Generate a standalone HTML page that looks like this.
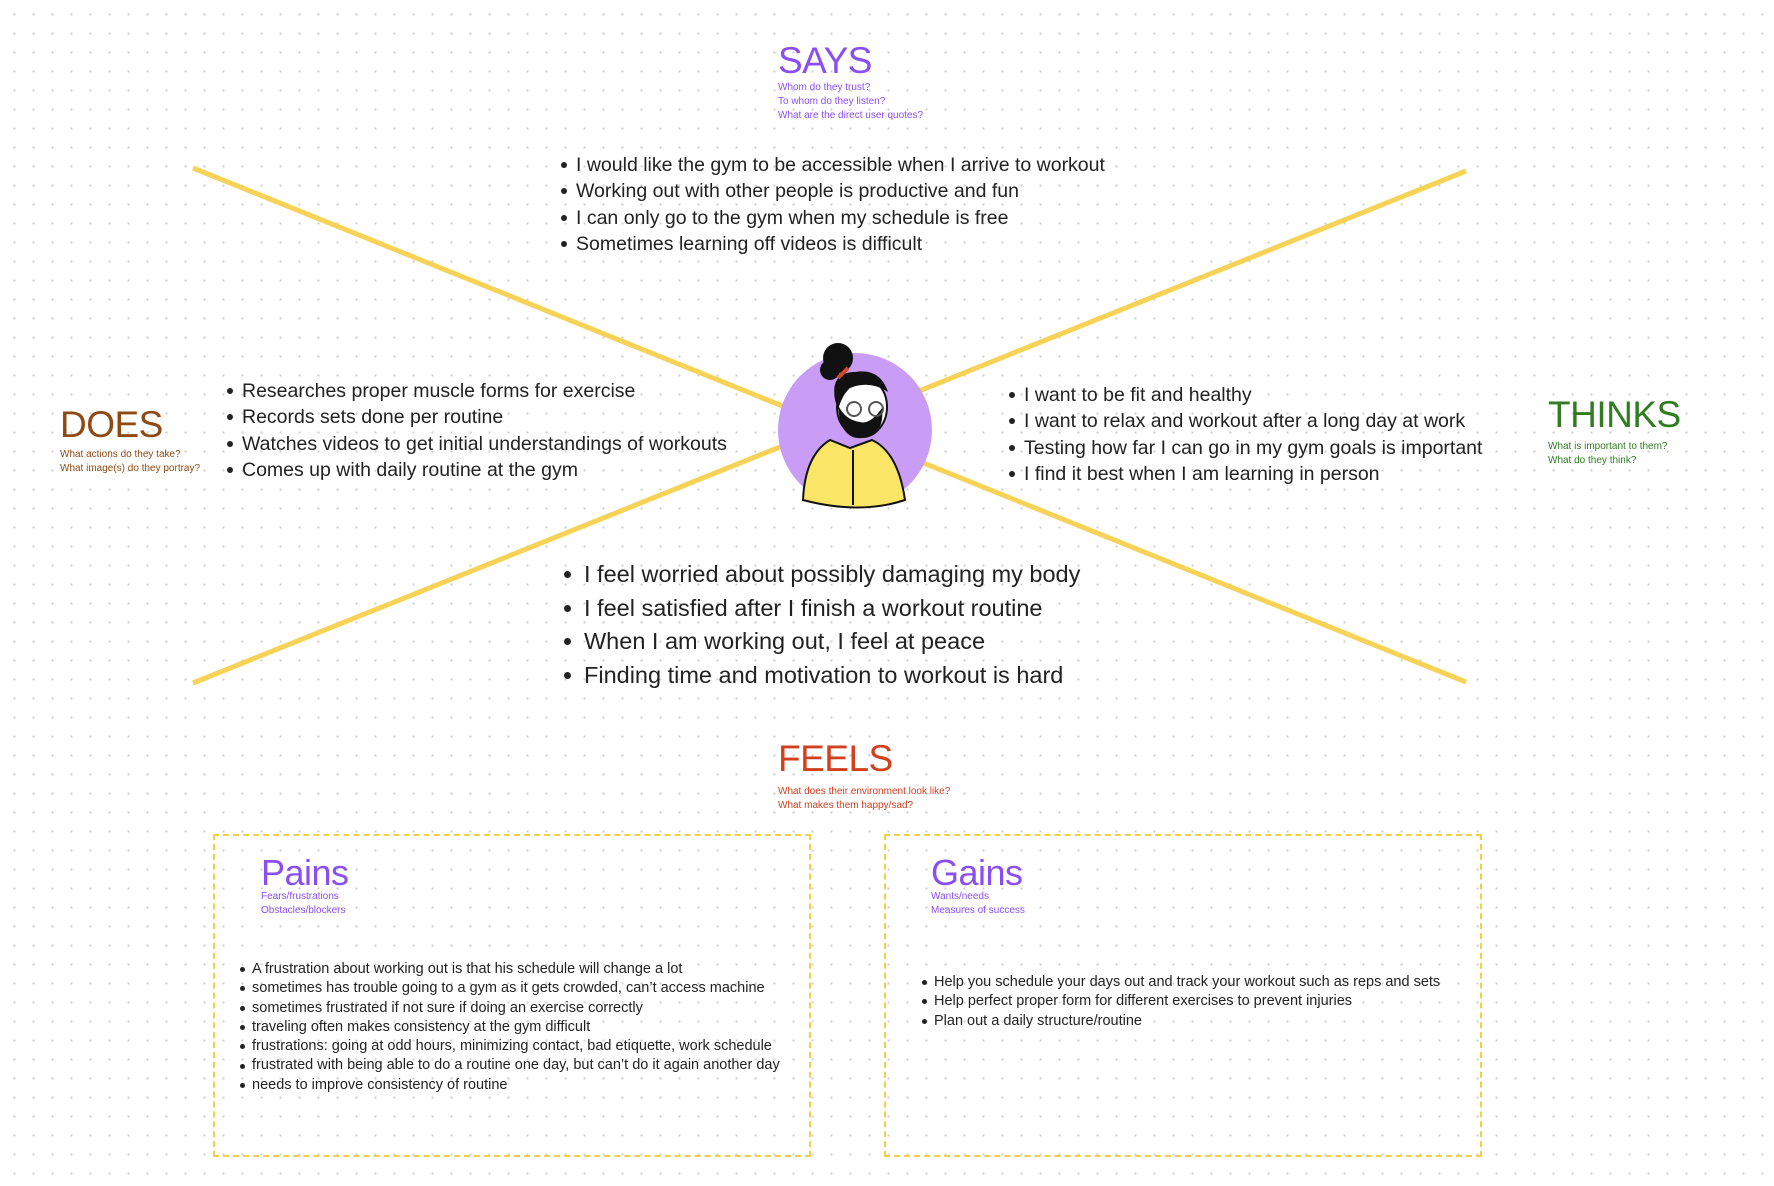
<!DOCTYPE html>
<html><head><meta charset="utf-8"><style>
*{margin:0;padding:0;box-sizing:border-box}
body{width:1774px;height:1186px;overflow:hidden;background:#fff;font-family:"Liberation Sans",sans-serif;color:#222;position:relative;
background-image:radial-gradient(circle,#cfcfcf 1px,transparent 1.3px);background-size:19px 19px;background-position:5px 5px}
.a{position:absolute;white-space:nowrap}
.t{font-size:37px;line-height:1;letter-spacing:-0.5px}
.s{font-size:10px;line-height:14px}
ul{list-style:none}
li{position:relative}
li:before{content:"";position:absolute;left:-15px;top:50%;width:6px;height:6px;margin-top:-3px;border-radius:50%;background:#222}
.m li{font-size:19.5px;height:26.3px;line-height:26.3px}
.f li{font-size:23.5px;height:33.5px;line-height:33.5px}
.f li:before{left:-20px;width:7px;height:7px;margin-top:-3.5px}
.p li{font-size:14.5px;height:19.3px;line-height:19.3px}
.p li:before{left:-12px;width:5px;height:5px;margin-top:-2.5px}
.box{position:absolute;border:2px dashed #f3cf45;background:transparent}
</style></head><body>
<svg class="a" style="left:0;top:0" width="1774" height="1186">
<line x1="193" y1="168" x2="1466" y2="682" stroke="#f6d256" stroke-width="5"/>
<line x1="193" y1="683" x2="1466" y2="171" stroke="#f6d256" stroke-width="5"/>
<circle cx="855" cy="430" r="77" fill="#c99cf6"/>
<path d="M803 500 Q805 455 830 440 L850 448 L872 440 Q898 452 905 500 Q860 515 803 500Z" fill="#fbe567" stroke="#111" stroke-width="2"/>
<path d="M853 450 L853 505" stroke="#111" stroke-width="2"/>
<ellipse cx="862" cy="407" rx="25" ry="30" fill="#fff" stroke="#111" stroke-width="2"/>
<path d="M838 405 Q840 440 862 438 Q885 435 882 408 Q870 425 860 422 Q845 420 838 405Z" fill="#111"/>
<path d="M835 400 Q830 372 855 372 Q880 368 888 392 Q870 380 850 388 Q842 395 838 410Z" fill="#111"/>
<circle cx="838" cy="358" r="15" fill="#111"/>
<circle cx="830" cy="370" r="10" fill="#111"/>
<path d="M838 378 L848 368" stroke="#d24a2a" stroke-width="4"/>
<circle cx="854" cy="409" r="7" fill="none" stroke="#555" stroke-width="2"/>
<circle cx="876" cy="409" r="7" fill="none" stroke="#555" stroke-width="2"/>
</svg>

<div class="a t" style="left:778px;top:42px;color:#8b4ef2">SAYS</div>
<div class="a s" style="left:778px;top:81px;color:#8b4ef2">Whom do they trust?<br>To whom do they listen?<br>What are the direct user quotes?</div>
<ul class="a m" style="left:576px;top:152px">
<li>I would like the gym to be accessible when I arrive to workout</li>
<li>Working out with other people is productive and fun</li>
<li>I can only go to the gym when my schedule is free</li>
<li>Sometimes learning off videos is difficult</li></ul>

<div class="a t" style="left:60px;top:406px;color:#8f4a14">DOES</div>
<div class="a s" style="left:60px;top:448px;color:#8f4a14">What actions do they take?<br>What image(s) do they portray?</div>
<ul class="a m" style="left:242px;top:378px">
<li>Researches proper muscle forms for exercise</li>
<li>Records sets done per routine</li>
<li>Watches videos to get initial understandings of workouts</li>
<li>Comes up with daily routine at the gym</li></ul>

<div class="a t" style="left:1548px;top:396px;color:#2f7d20">THINKS</div>
<div class="a s" style="left:1548px;top:440px;color:#2f7d20">What is important  to them?<br>What do they think?</div>
<ul class="a m" style="left:1024px;top:382px">
<li>I want to be fit and healthy</li>
<li>I want to relax and workout after a long day at work</li>
<li>Testing how far I can go in my gym goals is important</li>
<li>I find it best when I am learning in person</li></ul>

<ul class="a f" style="left:584px;top:558px">
<li>I feel worried about possibly damaging my body</li>
<li>I feel satisfied after I finish a workout routine</li>
<li>When I am working out, I feel at peace</li>
<li>Finding time and motivation to workout is hard</li></ul>

<div class="a t" style="left:778px;top:740px;color:#d2401e">FEELS</div>
<div class="a s" style="left:778px;top:785px;color:#d2401e">What does their environment look like?<br>What makes them happy/sad?</div>

<div class="box" style="left:213px;top:834px;width:598px;height:323px"></div>
<div class="box" style="left:884px;top:834px;width:598px;height:323px"></div>

<div class="a" style="left:261px;top:853px;font-size:36px;line-height:40px;color:#8b4ef2;letter-spacing:-0.5px">Pains</div>
<div class="a s" style="left:261px;top:890px;color:#8b4ef2">Fears/frustrations<br>Obstacles/blockers</div>
<ul class="a p" style="left:252px;top:960px">
<li>A frustration about working out is that his schedule will change a lot</li>
<li>sometimes has trouble going to a gym as it gets crowded, can’t access machine</li>
<li>sometimes frustrated if not sure if doing an exercise correctly</li>
<li>traveling often makes consistency at the gym difficult</li>
<li>frustrations: going at odd hours, minimizing contact, bad etiquette, work schedule</li>
<li>frustrated with being able to do a routine one day, but can’t do it again another day</li>
<li>needs to improve consistency of routine</li></ul>

<div class="a" style="left:931px;top:853px;font-size:36px;line-height:40px;color:#8b4ef2;letter-spacing:-0.5px">Gains</div>
<div class="a s" style="left:931px;top:890px;color:#8b4ef2">Wants/needs<br>Measures of success</div>
<ul class="a p" style="left:934px;top:973px">
<li>Help you schedule your days out and track your workout such as reps and sets</li>
<li>Help perfect proper form for different exercises to prevent injuries</li>
<li>Plan out a daily structure/routine</li></ul>
</body></html>
